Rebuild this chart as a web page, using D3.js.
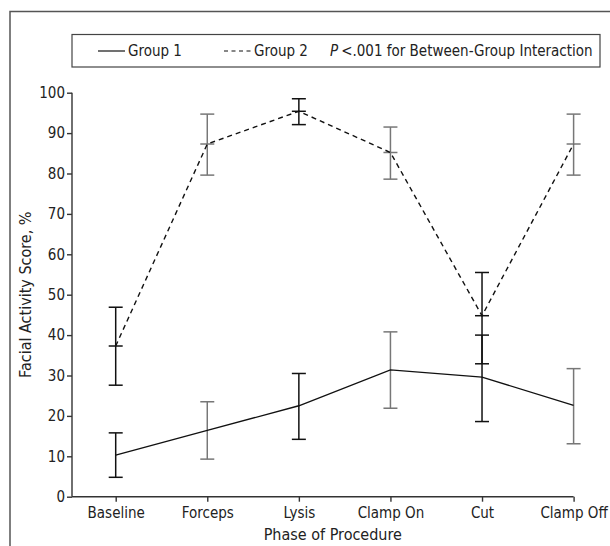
<!DOCTYPE html>
<html><head><meta charset="utf-8">
<script src="https://cdn.jsdelivr.net/npm/d3@7"></script>
<style>
body{margin:0;background:#fff;}
text{font-family:"Liberation Sans Narrow","DejaVu Sans Condensed","Roboto Condensed",sans-serif;fill:#222;}
</style></head>
<body>
<svg id="c" width="610" height="546"></svg>
<script>
const categories = ["Baseline","Forceps","Lysis","Clamp On","Cut","Clamp Off"];
const yTicks = [0,10,20,30,40,50,60,70,80,90,100];
const group1Mean = [10.3, 16.4, 22.5, 31.4, 29.6, 22.6];
const group1Upper = [15.8, 23.5, 30.5, 40.8, 40.0, 31.7];
const group1Lower = [4.8, 9.3, 14.2, 21.9, 18.6, 13.1];
const group2Mean = [37.3, 87.3, 95.4, 85.2, 44.8, 87.3];
const group2Upper = [46.9, 94.7, 98.5, 91.5, 55.5, 94.7];
const group2Lower = [27.6, 79.6, 92.1, 78.6, 32.9, 79.6];
const legendLabels = ["Group 1","Group 2"];

const svg = d3.select("#c");
// outer frame
svg.append("path").attr("d","M10,546 V11.5 H612").attr("fill","none").attr("stroke","#555").attr("stroke-width",1.5);

const x = d3.scalePoint().domain(categories).range([115.7,573.6]);
const y = d3.scaleLinear().domain([0,100]).range([496.7,92.7]);

const g = svg.append("g");
// y axis
const yAx = g.append("g").attr("transform","translate(72,0)")
  .call(d3.axisLeft(y).tickValues(yTicks).tickSize(5).tickPadding(2));
yAx.select(".domain").attr("d",`M0,${y(100)}V${y(0)}`);
// x axis
const xAx = g.append("g").attr("transform",`translate(0,${y(0)})`)
  .call(d3.axisBottom(x).tickSize(5).tickPadding(6));
xAx.select(".domain").attr("d",`M72,0H${x("Clamp Off")}`);
[yAx,xAx].forEach(a=>{
  a.selectAll("path,line").attr("stroke","#333").attr("stroke-width",1.4);
  a.selectAll("text").attr("font-size","15px").attr("fill","#222")
   .style("font-family",'"Liberation Sans Narrow","DejaVu Sans Condensed",sans-serif');
});

// axis titles
svg.append("text").attr("x",(72+x("Clamp Off"))/2+10).attr("y",540).attr("text-anchor","middle")
  .attr("font-size","16px").text("Phase of Procedure");
svg.append("text").attr("transform",`translate(31,${(y(0)+y(100))/2}) rotate(-90)`).attr("text-anchor","middle")
  .attr("font-size","16px").text("Facial Activity Score, %");

const cap = 7;
function errBars(means, up, lo, midCap){
  categories.forEach((c,i)=>{
    const col = i%2 ? "#777" : "#111";
    const xx = x(c);
    g.append("line").attr("x1",xx).attr("x2",xx).attr("y1",y(up[i])).attr("y2",y(lo[i]))
      .attr("stroke",col).attr("stroke-width",1.5);
    const caps = midCap ? [up[i],means[i],lo[i]] : [up[i],lo[i]];
    caps.forEach(v=>{
      g.append("line").attr("x1",xx-cap).attr("x2",xx+cap).attr("y1",y(v)).attr("y2",y(v))
        .attr("stroke",col).attr("stroke-width",1.5);
    });
  });
}
errBars(group1Mean, group1Upper, group1Lower, false);
errBars(group2Mean, group2Upper, group2Lower, true);

const line = d3.line().x((d,i)=>x(categories[i])).y(d=>y(d));
g.append("path").datum(group1Mean).attr("d",line).attr("fill","none").attr("stroke","#111").attr("stroke-width",1.4);
g.append("path").datum(group2Mean).attr("d",line).attr("fill","none").attr("stroke","#111").attr("stroke-width",1.4)
  .attr("stroke-dasharray","5,4");

// legend
const lg = svg.append("g");
lg.append("rect").attr("x",72).attr("y",34.5).attr("width",528).attr("height",32.5)
  .attr("fill","none").attr("stroke","#444").attr("stroke-width",1.2);
lg.append("line").attr("x1",98).attr("x2",125).attr("y1",51).attr("y2",51).attr("stroke","#111").attr("stroke-width",1.2);
lg.append("text").attr("x",128).attr("y",56).attr("font-size","15px").text(legendLabels[0]);
lg.append("line").attr("x1",224).attr("x2",251).attr("y1",51).attr("y2",51).attr("stroke","#111").attr("stroke-width",1.2)
  .attr("stroke-dasharray","4,3.5");
lg.append("text").attr("x",254).attr("y",56).attr("font-size","15px").text(legendLabels[1]);
const pt = lg.append("text").attr("x",330).attr("y",56).attr("font-size","15px");
pt.append("tspan").attr("font-style","italic").text("P");
pt.append("tspan").attr("dx","3").text("<.001 for Between-Group Interaction");
</script>
</body></html>
